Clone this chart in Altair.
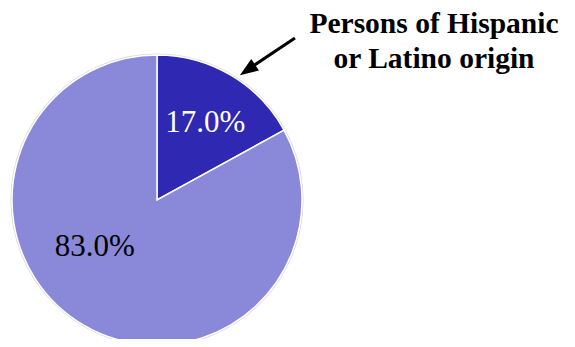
import altair as alt
import pandas as pd

labels = ["Persons of Hispanic or Latino origin", "Other"]
values = [17.0, 83.0]
colors = ["#2E28B2", "#8A88D8"]
order = [0, 1]

df = pd.DataFrame({"label": labels, "value": values, "order": order})
df["pct"] = df["value"].map(lambda v: f"{v:.1f}%")

cx, cy, R = 149, 192, 145
tscale = alt.Scale(domain=[0, 100])

pie = alt.Chart(df).mark_arc(radius=R, stroke="white", strokeWidth=1.5).encode(
    theta=alt.Theta("value:Q", stack=True, scale=tscale),
    order=alt.Order("order:Q"),
    x=alt.value(cx), y=alt.value(cy),
    color=alt.Color("label:N", scale=alt.Scale(domain=labels, range=colors), legend=None),
)

rim = alt.Chart(pd.DataFrame({"v": [100]})).mark_arc(
    radius=R + 1.5, radius2=R, fill="#d8d8d8"
).encode(theta=alt.Theta("v:Q", scale=tscale), x=alt.value(cx), y=alt.value(cy))

lab = alt.Chart(df).transform_stack(
    stack="value", groupby=[], as_=["v0", "v1"], sort=[alt.SortField("order", "ascending")]
).transform_calculate(mid="(datum.v0 + datum.v1) / 2")

t1 = lab.transform_filter(alt.datum.order == 0).mark_text(
    radius=91, thetaOffset=0.024, font="Liberation Serif", fontSize=31,
    color="white", baseline="middle", align="center"
).encode(theta=alt.Theta("mid:Q", stack=None, scale=tscale),
         x=alt.value(cx), y=alt.value(cy), text="pct:N")

t2 = lab.transform_filter(alt.datum.order == 1).mark_text(
    radius=78, thetaOffset=0.387, font="Liberation Serif", fontSize=31,
    color="black", baseline="middle", align="center"
).encode(theta=alt.Theta("mid:Q", stack=None, scale=tscale),
         x=alt.value(cx), y=alt.value(cy), text="pct:N")

ann = alt.Chart(pd.DataFrame({"t": [1]})).mark_text(
    text=["Persons of Hispanic", "or Latino origin"], font="Liberation Serif",
    fontWeight="bold", fontSize=29.5, lineHeight=35, align="center", baseline="alphabetic",
    color="black"
).encode(x=alt.value(426), y=alt.value(25))

line = alt.Chart(pd.DataFrame({"t": [1]})).mark_rule(color="black", strokeWidth=3).encode(
    x=alt.value(287), y=alt.value(30), x2=alt.value(245), y2=alt.value(58)
)

head = alt.Chart(pd.DataFrame({"t": [1]})).mark_point(
    shape="M0,-1L0.75,1L-0.75,1Z", filled=True, color="black", opacity=1,
    size=340, angle=236, strokeWidth=0
).encode(x=alt.value(239.5), y=alt.value(62))

chart = alt.layer(rim, pie, t1, t2, line, head, ann).properties(
    width=559, height=331, autosize=alt.AutoSizeParams(type="none"), padding=0
).configure_view(stroke=None)

chart.save("out.html", embed_options={"renderer": "svg", "actions": False})
